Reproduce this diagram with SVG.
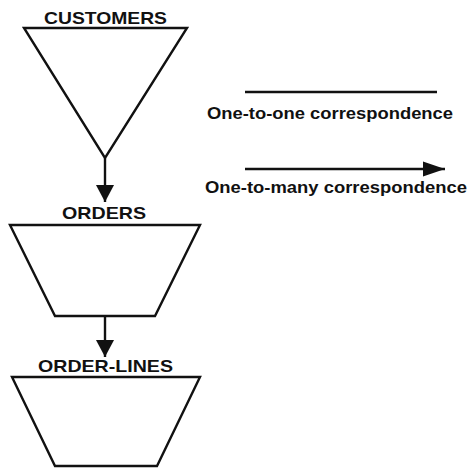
<svg xmlns="http://www.w3.org/2000/svg" width="469" height="468" viewBox="0 0 469 468">
<style>
.s{fill:none;stroke:#111;stroke-width:2.4;stroke-linejoin:miter}
.t{font-family:"Liberation Sans",Arial,sans-serif;font-weight:bold;fill:#111;font-size:17px}
</style>
<defs>
<marker id="ah" markerUnits="userSpaceOnUse" markerWidth="18" markerHeight="18" refX="17" refY="9" orient="auto">
<path d="M0,0 L17,9 L0,18 Z" fill="#111"/>
</marker>
<marker id="ah2" markerUnits="userSpaceOnUse" markerWidth="22" markerHeight="16" refX="22" refY="8" orient="auto">
<path d="M0,0.5 L22,8 L0,15.5 Z" fill="#111"/>
</marker>
</defs>
<rect width="469" height="468" fill="#fff"/>
<g id="customers">
<polygon class="s" points="24,28 187,28 105,158"/>
<text class="t" x="44" y="24" textLength="123" lengthAdjust="spacingAndGlyphs">CUSTOMERS</text>
</g>
<g id="orders">
<polygon class="s" points="10,225 200,225 155,316 55,316"/>
<text class="t" x="62" y="219" textLength="84" lengthAdjust="spacingAndGlyphs">ORDERS</text>
</g>
<g id="order-lines">
<polygon class="s" points="12,377 200,377 157,466 55,466"/>
<text class="t" x="38" y="372" textLength="135" lengthAdjust="spacingAndGlyphs">ORDER-LINES</text>
</g>
<g id="legend">
<line class="s" x1="245" y1="92" x2="437" y2="92"/>
<text class="t" x="207" y="119" textLength="246" lengthAdjust="spacingAndGlyphs">One-to-one correspondence</text>
<line class="s" x1="245" y1="169" x2="445" y2="169" marker-end="url(#ah2)"/>
<text class="t" x="205" y="193" textLength="262" lengthAdjust="spacingAndGlyphs">One-to-many correspondence</text>
</g>
<g id="connectors">
<line class="s" x1="105" y1="158" x2="105" y2="202" marker-end="url(#ah)"/>
<line class="s" x1="105" y1="316" x2="105" y2="357" marker-end="url(#ah)"/>
</g>
</svg>
